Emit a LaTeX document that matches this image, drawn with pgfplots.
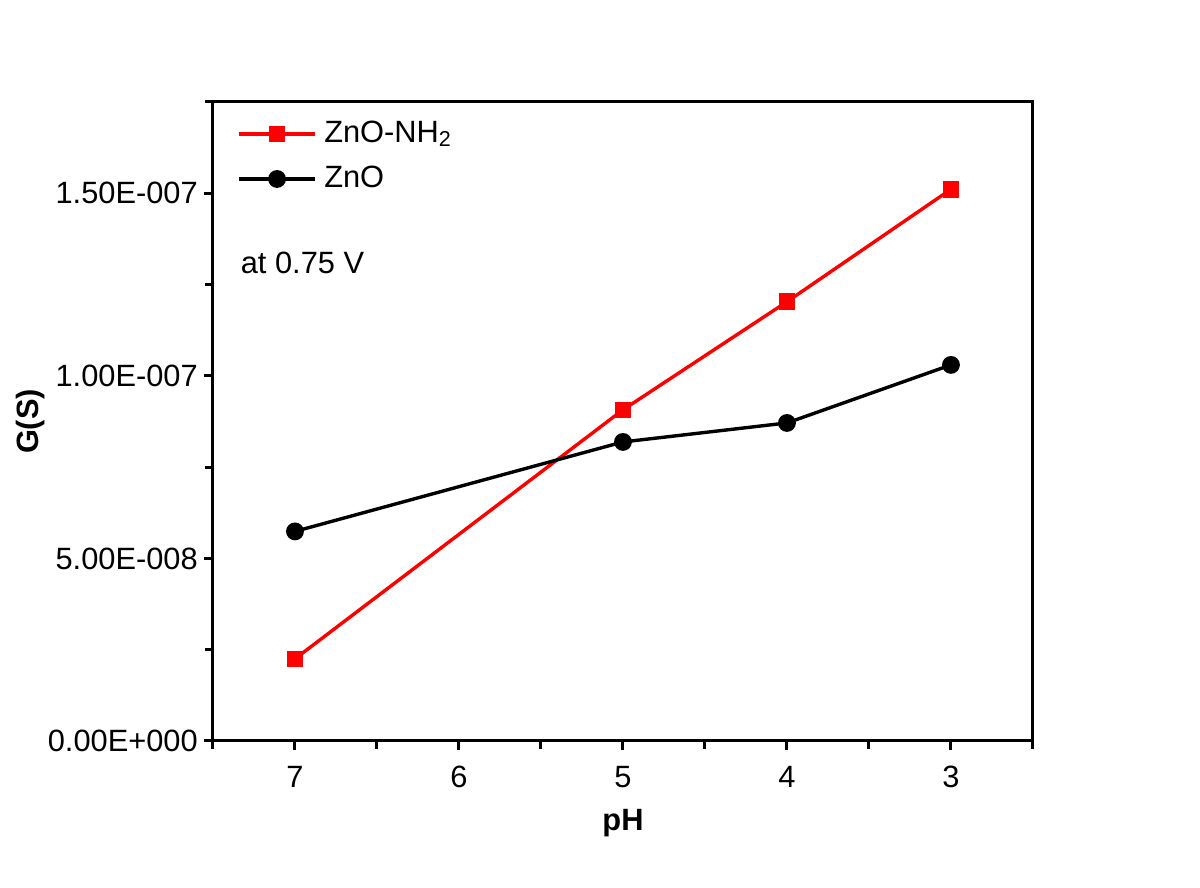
\documentclass[border=0pt]{standalone}
\usepackage{fontspec}
\setmainfont{Liberation Sans}
\usepackage{pgfplots}
\pgfplotsset{compat=1.18}
\begin{document}
\fontsize{7.7}{9}\selectfont
\begin{tikzpicture}
\useasboundingbox (-53.25pt,-36.75pt) rectangle (246.75pt,185.25pt);
\begin{axis}[
  at={(0pt,0pt)}, anchor=south west,
  scale only axis, width=205pt, height=159.75pt,
  x dir=reverse,
  xmin=2.5, xmax=7.5, ymin=0, ymax=1.75e-7,
  xtick={7,6,5,4,3}, xticklabels={7,6,5,4,3},
  minor xtick={7.5,6.5,5.5,4.5,3.5,2.5},
  ytick={0,5e-8,1e-7,1.5e-7},
  yticklabels={0.00E+000,5.00E-008,1.00E-007,1.50E-007},
  minor ytick={2.5e-8,7.5e-8,1.25e-7,1.75e-7},
  scaled y ticks=false, scaled x ticks=false,
  xtick pos=bottom, ytick pos=left,
  tick align=outside,
  major tick length=2.3pt, minor tick length=2pt,
  every tick/.style={black, line width=0.75pt},
  axis line style={line width=0.75pt},
  tick label style={font=\fontsize{7.7}{9}\selectfont},
  yticklabel style={xshift=1.25pt},
  xticklabel style={yshift=-1.2pt},
  xlabel={\bfseries pH}, ylabel={\bfseries G(S)},
  label style={font=\fontsize{7.7}{9}\selectfont},
  every axis x label/.style={at={(axis description cs:0.5,-0.128)}, anchor=center},
  every axis y label/.style={at={(axis description cs:-0.223,0.5)}, rotate=90, anchor=center},
  legend cell align=left,
  legend style={draw=none, fill=none, at={(0,1)}, anchor=north west, xshift=3pt, yshift=-0.5pt,
    font=\fontsize{7.7}{9}\selectfont, row sep=0.75pt},
  legend image code/.code={\draw[mark repeat=2,mark phase=2,#1] plot coordinates {(0cm,0cm) (0.33cm,0cm) (0.66cm,0cm)};},
]
\addplot[red, line width=0.85pt, mark=square*, mark size=1.65pt, mark options={solid, fill=red}]
  coordinates {(7,2.25e-8) (5,9.07e-8) (4,1.203e-7) (3,1.511e-7)};
\addlegendentry{ZnO-NH\textsubscript{2}}
\addplot[black, line width=0.85pt, mark=*, mark size=1.8pt, mark options={solid, fill=black}]
  coordinates {(7,5.74e-8) (5,8.19e-8) (4,8.71e-8) (3,1.03e-7)};
\addlegendentry{ZnO}
\node[anchor=west, inner sep=0pt, font=\fontsize{7.7}{9}\selectfont] at (axis cs:7.335,1.308e-7) {at 0.75 V};
\end{axis}
\end{tikzpicture}
\end{document}
